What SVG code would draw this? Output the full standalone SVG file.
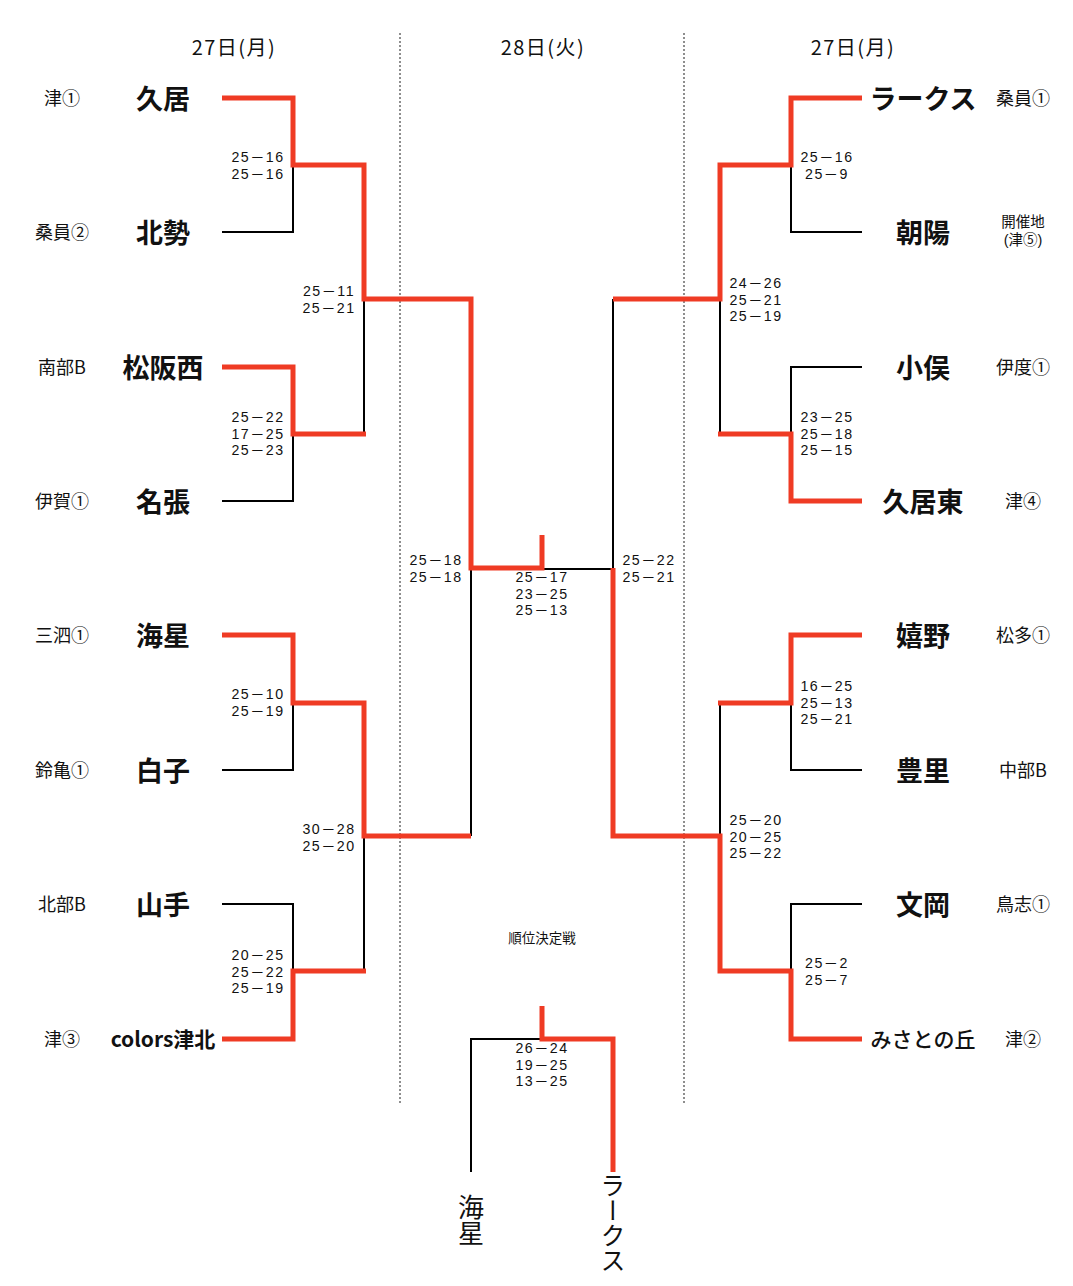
<svg xmlns="http://www.w3.org/2000/svg" width="1073" height="1286" viewBox="0 0 1073 1286">
<style>
text{font-family:"Noto Sans CJK JP","Noto Sans",sans-serif;fill:#111;dominant-baseline:central}
.hdr{font-size:20px;text-anchor:middle;letter-spacing:1.5px}
.team{font-size:27px;font-weight:bold;text-anchor:middle}
.team2{font-size:21px;font-weight:bold;text-anchor:middle}
.seed{font-size:18px;text-anchor:middle}
.seed2{font-family:"Liberation Sans","Noto Sans CJK JP",sans-serif;font-size:14.5px;text-anchor:middle}
.sc{font-family:"Liberation Sans","Noto Sans CJK JP",sans-serif;font-size:14.2px;text-anchor:middle;letter-spacing:1.5px}
.note{font-size:13.5px;text-anchor:middle}
.vert{writing-mode:vertical-rl;font-size:26px;text-anchor:start}
.r{stroke:#ef3b24;stroke-width:5;fill:none;stroke-linejoin:miter}
.k{stroke:#000;stroke-width:2;fill:none}
.dot{stroke:#444;stroke-width:1.2;stroke-dasharray:2 2;fill:none}
</style>

<g id="dividers">
<line class="dot" x1="400" y1="33" x2="400" y2="1105"/>
<line class="dot" x1="684" y1="33" x2="684" y2="1105"/>
</g>

<g id="headers">
<text class="hdr" x="234" y="46">27日(月)</text>
<text class="hdr" x="543" y="46">28日(火)</text>
<text class="hdr" x="853" y="46">27日(月)</text>
</g>

<g id="connectors">
<path class="k" d="M222 232 H293 V165"/>
<path class="k" d="M222 501 H293 V434"/>
<path class="k" d="M222 770 H293 V703"/>
<path class="k" d="M222 904 H293 V971"/>
<path class="k" d="M364 299 V434"/>
<path class="k" d="M364 836 V971"/>
<path class="k" d="M471 568 V836"/>
<path class="k" d="M542 569 H613"/>
<path class="k" d="M862 232 H791 V165"/>
<path class="k" d="M862 367 H791 V434"/>
<path class="k" d="M862 770 H791 V703"/>
<path class="k" d="M862 904 H791 V971"/>
<path class="k" d="M720 299 V434"/>
<path class="k" d="M720 703 V836"/>
<path class="k" d="M613 299 V568"/>
<path class="k" d="M471 1172 V1039 H542"/>

<path class="r" d="M222 98 H293 V165 H364 V299 H471 V568 H542 V535"/>
<path class="r" d="M222 367 H293 V434 H366"/>
<path class="r" d="M222 635 H293 V703 H364 V836 H471"/>
<path class="r" d="M222 1039 H293 V971 H366"/>
<path class="r" d="M862 98 H791 V165 H720 V299 H613"/>
<path class="r" d="M862 501 H791 V434 H718"/>
<path class="r" d="M862 635 H791 V703 H718"/>
<path class="r" d="M862 1039 H791 V971 H720 V836 H613 V568"/>
<path class="r" d="M542 1006 V1039 H613 V1172"/>
</g>

<g id="scores">
<text class="sc" y="157"><tspan x="258">25－16</tspan><tspan x="258" dy="16.5">25－16</tspan></text>
<text class="sc" y="291"><tspan x="329">25－11</tspan><tspan x="329" dy="16.5">25－21</tspan></text>
<text class="sc" y="417"><tspan x="258">25－22</tspan><tspan x="258" dy="16.5">17－25</tspan><tspan x="258" dy="16.5">25－23</tspan></text>
<text class="sc" y="694"><tspan x="258">25－10</tspan><tspan x="258" dy="16.5">25－19</tspan></text>
<text class="sc" y="829"><tspan x="329">30－28</tspan><tspan x="329" dy="16.5">25－20</tspan></text>
<text class="sc" y="955"><tspan x="258">20－25</tspan><tspan x="258" dy="16.5">25－22</tspan><tspan x="258" dy="16.5">25－19</tspan></text>
<text class="sc" y="560"><tspan x="436">25－18</tspan><tspan x="436" dy="16.5">25－18</tspan></text>
<text class="sc" y="577"><tspan x="542">25－17</tspan><tspan x="542" dy="16.5">23－25</tspan><tspan x="542" dy="16.5">25－13</tspan></text>
<text class="sc" y="560"><tspan x="649">25－22</tspan><tspan x="649" dy="16.5">25－21</tspan></text>
<text class="sc" y="157"><tspan x="827">25－16</tspan><tspan x="827" dy="16.5">25－9</tspan></text>
<text class="sc" y="283"><tspan x="756">24－26</tspan><tspan x="756" dy="16.5">25－21</tspan><tspan x="756" dy="16.5">25－19</tspan></text>
<text class="sc" y="417"><tspan x="827">23－25</tspan><tspan x="827" dy="16.5">25－18</tspan><tspan x="827" dy="16.5">25－15</tspan></text>
<text class="sc" y="686"><tspan x="827">16－25</tspan><tspan x="827" dy="16.5">25－13</tspan><tspan x="827" dy="16.5">25－21</tspan></text>
<text class="sc" y="820"><tspan x="756">25－20</tspan><tspan x="756" dy="16.5">20－25</tspan><tspan x="756" dy="16.5">25－22</tspan></text>
<text class="sc" y="963"><tspan x="827">25－2</tspan><tspan x="827" dy="16.5">25－7</tspan></text>
<text class="sc" y="1048"><tspan x="542">26－24</tspan><tspan x="542" dy="16.5">19－25</tspan><tspan x="542" dy="16.5">13－25</tspan></text>
<text class="note" x="542" y="937">順位決定戦</text>
</g>

<g id="team-hisai"><text class="seed" x="62" y="97">津①</text><text class="team" x="163" y="97">久居</text></g>
<g id="team-hokusei"><text class="seed" x="62" y="231">桑員②</text><text class="team" x="163" y="231">北勢</text></g>
<g id="team-matsusakanishi"><text class="seed" x="62" y="366">南部B</text><text class="team" x="163" y="366">松阪西</text></g>
<g id="team-nabari"><text class="seed" x="62" y="500">伊賀①</text><text class="team" x="163" y="500">名張</text></g>
<g id="team-kaisei"><text class="seed" x="62" y="634">三泗①</text><text class="team" x="163" y="634">海星</text></g>
<g id="team-shiroko"><text class="seed" x="62" y="769">鈴亀①</text><text class="team" x="163" y="769">白子</text></g>
<g id="team-yamate"><text class="seed" x="62" y="903">北部B</text><text class="team" x="163" y="903">山手</text></g>
<g id="team-colors"><text class="seed" x="62" y="1038">津③</text><text class="team2" x="163" y="1038">colors津北</text></g>

<g id="team-larks"><text class="team" x="923" y="97">ラークス</text><text class="seed" x="1023" y="97">桑員①</text></g>
<g id="team-asahi"><text class="team" x="923" y="231">朝陽</text><text class="seed2" y="222"><tspan x="1023">開催地</tspan><tspan x="1023" dy="17.5">(津⑤)</tspan></text></g>
<g id="team-obata"><text class="team" x="923" y="366">小俣</text><text class="seed" x="1023" y="366">伊度①</text></g>
<g id="team-hisaihigashi"><text class="team" x="923" y="500">久居東</text><text class="seed" x="1023" y="500">津④</text></g>
<g id="team-ureshino"><text class="team" x="923" y="634">嬉野</text><text class="seed" x="1023" y="634">松多①</text></g>
<g id="team-toyosato"><text class="team" x="923" y="769">豊里</text><text class="seed" x="1023" y="769">中部B</text></g>
<g id="team-bunoka"><text class="team" x="923" y="903">文岡</text><text class="seed" x="1023" y="903">鳥志①</text></g>
<g id="team-misatonooka"><text class="team2" x="923" y="1038" style="font-weight:500">みさとの丘</text><text class="seed" x="1023" y="1038">津②</text></g>

<g id="third-kaisei"><text class="vert" x="471" y="1194">海星</text></g>
<g id="third-larks"><text class="vert" x="613" y="1173" style="font-size:25px">ラークス</text></g>
</svg>
